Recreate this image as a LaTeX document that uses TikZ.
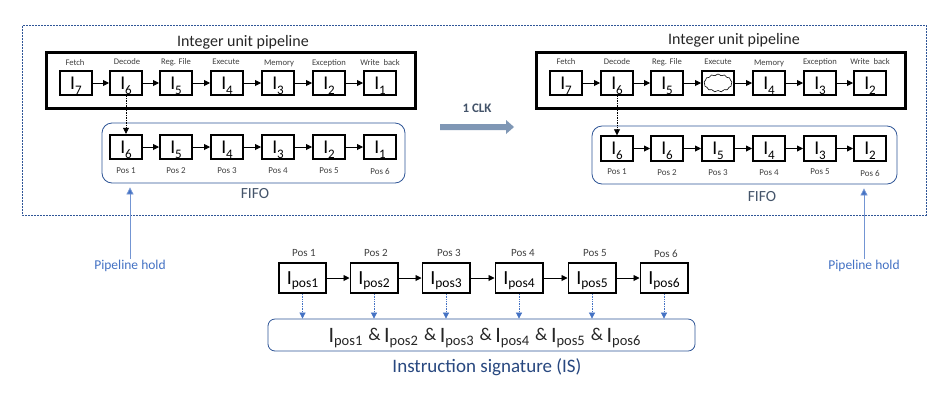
\documentclass[tikz,border=0pt]{standalone}
\usepackage{fontspec}
\setmainfont{Carlito}
\usetikzlibrary{arrows.meta,shapes.symbols}
\definecolor{frameblue}{HTML}{2F5597}
\definecolor{holdblue}{HTML}{4472C4}
\definecolor{labgrey}{HTML}{404040}
\definecolor{slate}{HTML}{44546A}
\definecolor{clkarrow}{HTML}{7F97B5}
\newcommand{\fsz}[1]{\fontsize{#1}{#1}\selectfont}
\newcommand{\Reg}[1]{{\fsz{19.5}I\raisebox{-5pt}[0pt][0pt]{\fsz{13}#1}}}
\newcommand{\Pos}[1]{{\fsz{20}I\raisebox{-3.5pt}[0pt][0pt]{\fsz{13.5}pos#1}}}
\newcommand{\Sig}[1]{{\fsz{22}I\raisebox{-3.5pt}[0pt][0pt]{\fsz{14.5}pos#1}}}
\newcommand{\Amp}{\hspace{6pt}\raisebox{1.5pt}{\fsz{18}\&}\hspace{3.5pt}}
\tikzset{
  regbox/.style={draw=black,line width=1.8pt,minimum width=32.2pt,minimum height=24.6pt,inner sep=0pt},
  posbox/.style={draw=black,line width=1.8pt,minimum width=47.2pt,minimum height=30.2pt,inner sep=0pt},
  stage/.style={text=labgrey,inner sep=0pt,font=\fsz{8.6}},
  poslab/.style={text=labgrey,inner sep=0pt,font=\fsz{9}},
  toplab/.style={text=labgrey,inner sep=0pt,font=\fsz{11}},
  title/.style={text=black!85,inner sep=0pt,font=\fsz{16}},
  thickframe/.style={draw=black,line width=3pt,inner sep=0pt},
  flow/.style={draw=black,line width=0.9pt,-{Triangle[length=6pt,width=6pt]}},
  copyarrow/.style={draw=black,line width=0.7pt,densely dotted,-{Triangle[length=6pt,width=6pt]}},
  sigarrow/.style={draw=holdblue,line width=0.7pt,densely dotted,-{Triangle[length=6pt,width=6pt]}},
  holdarrow/.style={draw=holdblue!75,line width=0.8pt,-{Triangle[length=7pt,width=7pt,fill=holdblue]},shorten >=4pt},
  holdlab/.style={text=holdblue,inner sep=1pt,font=\fsz{13.5}},
  fifolab/.style={text=slate,inner sep=0pt,font=\fsz{15.5}},
}
\begin{document}
\begin{tikzpicture}[x=1pt,y=-1pt]
\useasboundingbox (0,0) rectangle (952,400);
\fill[white] (0,0) rectangle (952,400);
% outer dashed frame
\draw[draw=frameblue,line width=0.7pt,dash pattern=on 2pt off 1pt] (22.5,25.5) rectangle (926,215);
% frames
\draw[thickframe] (46,52) rectangle (415,108);
\draw[thickframe] (536,52) rectangle (905,108);
\node[draw=frameblue,line width=0.8pt,rounded corners=10pt,minimum width=303pt,minimum height=60pt,inner sep=0pt] (fifoL) at (253.5,153) {};
\node[draw=frameblue,line width=0.8pt,rounded corners=10pt,minimum width=305pt,minimum height=58pt,inner sep=0pt] (fifoR) at (744.5,155) {};
\node[title] (titleL) at (243,42) {Integer unit pipeline};
\node[title] (titleR) at (734,40) {Integer unit pipeline};
\node[fifolab] (fifoLabL) at (255,194) {FIFO};
\node[fifolab] (fifoLabR) at (762,197) {FIFO};
% left pipeline
\foreach \n/\x/\s/\lx/\ly/\t in {
  a/76/7/75/63/Fetch, b/126/6/127/62/Decode, c/176/5/176/62/Reg. File, d/227/4/226/62/Execute,
  e/278/3/279/63/Memory, f/329/2/329/63/Exception, g/380/1/380/63/Write\ \ back}{
  \node[regbox] (L\n) at (\x,83) {\Reg{\s}};
  \node[stage] (LT\n) at (\lx,\ly) {\t};
}
\draw[flow] (La) -- (Lb);
\draw[flow] (Lb) -- (Lc);
\draw[flow] (Lc) -- (Ld);
\draw[flow] (Ld) -- (Le);
\draw[flow] (Le) -- (Lf);
\draw[flow] (Lf) -- (Lg);
% left fifo
\foreach \n/\x/\s/\p in {b/126/6/1, c/176/5/2, d/227/4/3, e/278/3/4, f/329/2/5, g/380/1/6}{
  \node[regbox] (M\n) at (\x,147) {\Reg{\s}};
  \node[poslab] (MP\n) at (\x,171) {Pos \p};
}
\draw[flow] (Mb) -- (Mc);
\draw[flow] (Mc) -- (Md);
\draw[flow] (Md) -- (Me);
\draw[flow] (Me) -- (Mf);
\draw[flow] (Mf) -- (Mg);
\draw[copyarrow] (Lb) -- (Mb);
% right pipeline
\foreach \n/\x/\s/\t/\ly in {
  a/566/7/Fetch/62, b/617/6/Decode/62, c/667/5/Reg. File/62, e/769/4/Memory/63,
  f/820/3/Exception/62, g/870/2/Write\ \ back/62}{
  \node[regbox] (R\n) at (\x,83) {\Reg{\s}};
  \node[stage] (RT\n) at (\x,\ly) {\t};
}
\node[regbox] (Rd) at (718,83) {};
\node[stage] (RTd) at (718,62) {Execute};
\node[cloud,cloud puffs=13,cloud puff arc=110,aspect=1.7,draw=black,line width=0.6pt,minimum width=28pt,minimum height=18pt,inner sep=0pt] (Rcloud) at (718,83) {};
\draw[flow] (Ra) -- (Rb);
\draw[flow] (Rb) -- (Rc);
\draw[flow] (Rc) -- (Rd);
\draw[flow] (Rd) -- (Re);
\draw[flow] (Re) -- (Rf);
\draw[flow] (Rf) -- (Rg);
% right fifo
\foreach \n/\x/\s/\p/\py in {b/617/6/1/172, c/667/6/2/173, d/718/5/3/173, e/769/4/4/173, f/820/3/5/172, g/870/2/6/173}{
  \node[regbox] (S\n) at (\x,148.5) {\Reg{\s}};
  \node[poslab] (SP\n) at (\x,\py) {Pos \p};
}
\draw[flow] (Sb) -- (Sc);
\draw[flow] (Sc) -- (Sd);
\draw[flow] (Sd) -- (Se);
\draw[flow] (Se) -- (Sf);
\draw[flow] (Sf) -- (Sg);
\draw[copyarrow] (Rb) -- (Sb);
% clk arrow
\fill[clkarrow] (440,124) -- (506,124) -- (506,120) -- (514,127) -- (506,134) -- (506,130) -- (440,130) -- cycle;
\node[text=slate,inner sep=0pt,font=\fsz{13}\bfseries] (clkLab) at (477,108) {1 CLK};
% hold
\node[holdlab] (holdL) at (130,266) {Pipeline hold};
\node[holdlab] (holdR) at (864,266) {Pipeline hold};
\draw[holdarrow] (holdL.north) -- (holdL.north |- fifoL.south);
\draw[holdarrow] (holdR.north) -- (holdR.north |- fifoR.south);
% bottom
\foreach \n/\x/\p/\lx/\ly in {1/302.5/1/304/253, 2/374/2/376/253, 3/446/3/449/253, 4/519/4/523/253, 5/592/5/595/253, 6/664/6/666/254}{
  \node[posbox] (P\n) at (\x,278) {\Pos{\p}};
  \node[toplab] (PL\n) at (\lx,\ly) {Pos \p};
}
\draw[flow] (P1) -- (P2);
\draw[flow] (P2) -- (P3);
\draw[flow] (P3) -- (P4);
\draw[flow] (P4) -- (P5);
\draw[flow] (P5) -- (P6);
\node[draw=frameblue,line width=0.8pt,rounded corners=7pt,minimum width=427pt,minimum height=32pt,inner sep=0pt] (sig) at (481.5,335) {};
\node[inner sep=0pt,text=black!85] (sigText) at (484.5,335) {\Sig{1}\Amp\Sig{2}\Amp\Sig{3}\Amp\Sig{4}\Amp\Sig{5}\Amp\Sig{6}};
\foreach \n in {1,...,6}{
  \draw[sigarrow] (P\n.south) -- (P\n.south |- sig.north);
}
\node[inner sep=0pt,text=frameblue!85!black,font=\fsz{19}] (sigLab) at (487,367) {Instruction signature (IS)};
\end{tikzpicture}
\end{document}
